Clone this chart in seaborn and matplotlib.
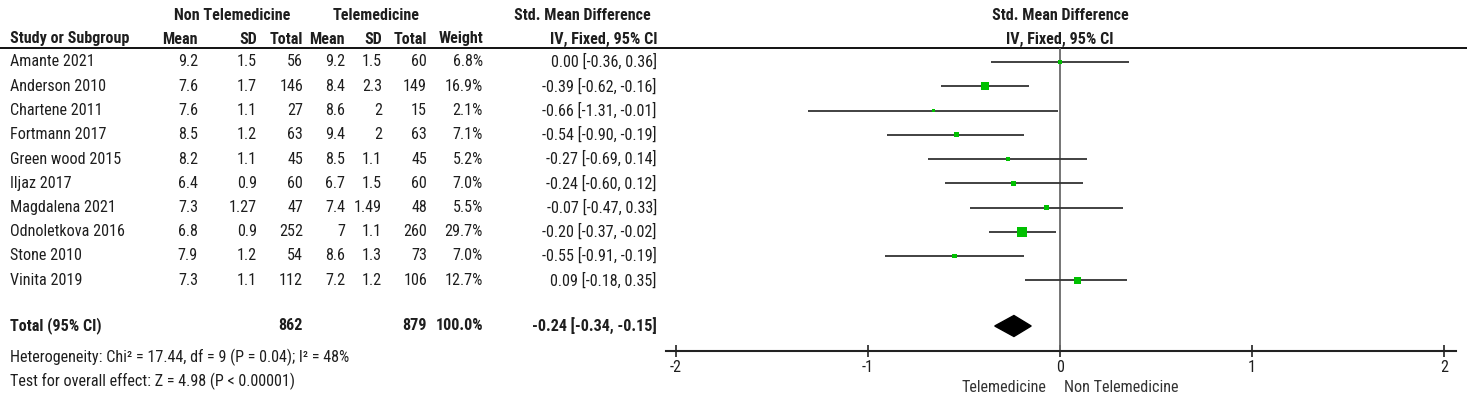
import matplotlib
matplotlib.use("Agg")
import matplotlib.pyplot as plt
import matplotlib.transforms as mtransforms
from matplotlib import font_manager
from matplotlib.patches import Polygon
import seaborn as sns
import pandas as pd

# data
studies = ["Amante 2021", "Anderson 2010", "Chartene 2011", "Fortmann 2017", "Green wood 2015",
           "Iljaz 2017", "Magdalena 2021", "Odnoletkova 2016", "Stone 2010", "Vinita 2019"]
nt_mean = [9.2, 7.6, 7.6, 8.5, 8.2, 6.4, 7.3, 6.8, 7.9, 7.3]
nt_sd = [1.5, 1.7, 1.1, 1.2, 1.1, 0.9, 1.27, 0.9, 1.2, 1.1]
nt_total = [56, 146, 27, 63, 45, 60, 47, 252, 54, 112]
t_mean = [9.2, 8.4, 8.6, 9.4, 8.5, 6.7, 7.4, 7, 8.6, 7.2]
t_sd = [1.5, 2.3, 2, 2, 1.1, 1.5, 1.49, 1.1, 1.3, 1.2]
t_total = [60, 149, 15, 63, 45, 60, 48, 260, 73, 106]
weight = [6.8, 16.9, 2.1, 7.1, 5.2, 7.0, 5.5, 29.7, 7.0, 12.7]
smd = [0.00, -0.39, -0.66, -0.54, -0.27, -0.24, -0.07, -0.20, -0.55, 0.09]
ci_low = [-0.36, -0.62, -1.31, -0.90, -0.69, -0.60, -0.47, -0.37, -0.91, -0.18]
ci_high = [0.36, -0.16, -0.01, -0.19, 0.14, 0.12, 0.33, -0.02, -0.19, 0.35]
total_nt = 862
total_t = 879
total_smd = -0.24
total_low = -0.34
total_high = -0.15
heterogeneity = "Heterogeneity: Chi\u00b2 = 17.44, df = 9 (P = 0.04); I\u00b2 = 48%"
overall_effect = "Test for overall effect: Z = 4.98 (P < 0.00001)"
x_ticks = [-2, -1, 0, 1, 2]
favours_left = "Telemedicine"
favours_right = "Non Telemedicine"

sns.set_theme(style="white")
available = {f.name for f in font_manager.fontManager.ttflist}
family = "Liberation Sans"
size = 10.2
for name in ["Liberation Sans Narrow", "Arial Narrow", "Roboto Condensed", "DejaVu Sans Condensed"]:
    if name in available:
        family = name
        size = 11.6
        break
plt.rcParams["font.family"] = [family, "DejaVu Sans"]

TXT = "#1e1e1e"
GREEN = "#00c000"
ROW0, STEP = 62, 24.25
TOTAL_Y = 326
HEAD1, HEAD2, RULE_Y = 15, 39, 48
AXIS_Y = 351

df = pd.DataFrame({"study": studies, "smd": smd, "lo": ci_low, "hi": ci_high, "w": weight})
df["y"] = [ROW0 + i * STEP for i in range(len(df))]
df["side"] = [max(3.5, 1.85 * w ** 0.5) * 0.72 for w in df["w"]]   # square side in points

fig = plt.figure(figsize=(14.67, 4.13), dpi=100)

# table part, pixel coordinates
ax_t = fig.add_axes([0, 0, 1, 1])
ax_t.set_xlim(0, 1467)
ax_t.set_ylim(413, 0)
ax_t.axis("off")

cols = [("Mean", 198, nt_mean, "g"), ("SD", 257, nt_sd, "g"), ("Total", 303, nt_total, "d"),
        ("Mean", 345, t_mean, "g"), ("SD", 382, t_sd, "g"), ("Total", 427, t_total, "d")]

head = dict(fontsize=size, fontweight="bold", color=TXT, va="center")
ax_t.text(10, HEAD2, "Study or Subgroup", **head)
ax_t.text(232, HEAD1, "Non Telemedicine", ha="center", **head)
ax_t.text(376, HEAD1, "Telemedicine", ha="center", **head)
ax_t.text(651, HEAD1, "Std. Mean Difference", ha="right", **head)
ax_t.text(657, HEAD2, "IV, Fixed, 95% CI", ha="right", **head)
ax_t.text(483, HEAD2, "Weight", ha="right", **head)
for label, xr, vals, fmt in cols:
    ax_t.text(xr, HEAD2, label, ha="right", **head)
    for y, v in zip(df["y"], vals):
        ax_t.text(xr, y, format(v, fmt), fontsize=size, color=TXT, va="center", ha="right")

for i, row in df.iterrows():
    ax_t.text(10, row["y"], row["study"], fontsize=size, color=TXT, va="center")
    ax_t.text(483, row["y"], f"{row['w']:.1f}%", fontsize=size, color=TXT, va="center", ha="right")
    ax_t.text(657, row["y"], f"{row['smd']:.2f} [{row['lo']:.2f}, {row['hi']:.2f}]",
              fontsize=size, color=TXT, va="center", ha="right")

ax_t.text(10, TOTAL_Y, "Total (95% CI)", **head)
ax_t.text(303, TOTAL_Y, f"{total_nt}", ha="right", **head)
ax_t.text(427, TOTAL_Y, f"{total_t}", ha="right", **head)
ax_t.text(483, TOTAL_Y, f"{sum(weight):.1f}%", ha="right", **head)
ax_t.text(657, TOTAL_Y, f"{total_smd:.2f} [{total_low:.2f}, {total_high:.2f}]", ha="right", **head)
ax_t.text(10, 357, heterogeneity, fontsize=size, color=TXT, va="center")
ax_t.text(10, 381, overall_effect, fontsize=size, color=TXT, va="center")
ax_t.axhline(RULE_Y, color="#111111", lw=1.4)

# forest part
ax_f = fig.add_axes([666 / 1467, (413 - AXIS_Y) / 413, 790 / 1467, (AXIS_Y - RULE_Y) / 413])
ax_f.set_facecolor("none")
ax_f.set_xlim(-2 - 10 / 192, 2 + 12 / 192)
ax_f.set_ylim(AXIS_Y, RULE_Y)
ax_f.axvline(0, color="#6a6a6a", lw=1.3, zorder=1)
ax_f.hlines(df["y"], df["lo"], df["hi"], color="#333333", lw=1.3, zorder=2)
sns.scatterplot(data=df, x="smd", y="y", marker="s", s=df["side"] ** 2, color=GREEN,
                linewidth=0, ax=ax_f, zorder=3, legend=False)
half_h = 10.5
ax_f.add_patch(Polygon([(total_low, TOTAL_Y), (total_smd, TOTAL_Y - half_h),
                        (total_high, TOTAL_Y), (total_smd, TOTAL_Y + half_h)],
                       closed=True, color="black", zorder=3))
sns.despine(ax=ax_f, left=True, top=True, right=True)
ax_f.spines["bottom"].set_color("#222222")
ax_f.spines["bottom"].set_linewidth(1.5)
ax_f.set_xticks(x_ticks)
ax_f.set_xticklabels([str(t) for t in x_ticks])
ax_f.set_yticks([])
ax_f.tick_params(axis="x", direction="inout", length=9, width=1.2, color="#222222",
                 labelsize=size, labelcolor=TXT, pad=2, bottom=True)
ax_f.set_xlabel("")
ax_f.set_ylabel("")

mix = mtransforms.blended_transform_factory(ax_f.transData, ax_t.transData)
ax_t.text(0, HEAD1, "Std. Mean Difference", transform=mix, ha="center", **head)
ax_t.text(0, HEAD2, "IV, Fixed, 95% CI", transform=mix, ha="center", **head)
ax_t.text(-0.07, 388, favours_left, transform=mix, fontsize=size, color="#333333", va="center", ha="right")
ax_t.text(0.02, 388, favours_right, transform=mix, fontsize=size, color="#333333", va="center", ha="left")

fig.savefig("out.png", dpi=100)
